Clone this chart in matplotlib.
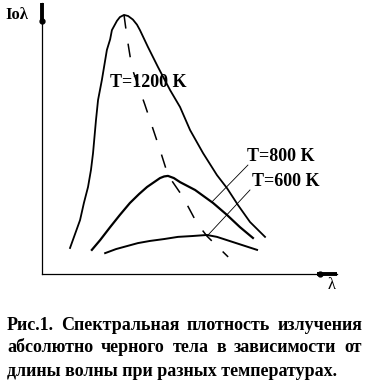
import matplotlib
matplotlib.use("Agg")
import matplotlib.pyplot as plt

# wavelength / intensity in arbitrary units (axes run 0..100)
lam_1200 = [9.5, 12.9, 14.2, 15.6, 16.6, 17.3, 18.3, 19.0, 20.3, 22.0, 23.1, 23.7, 25.4,
            26.4, 27.8, 29.2, 30.8, 32.2, 33.2, 35.9, 39.3, 43.4, 46.8, 50.2, 54.6,
            59.3, 62.7, 66.4, 70.5, 75.6]
int_1200 = [9.6, 19.9, 26.2, 32.1, 38.4, 44.6, 56.8, 64.2, 71.6, 82.7, 86.6, 90.0, 93.4,
            94.8, 95.6, 95.2, 93.9, 92.0, 90.0, 83.8, 76.4, 67.9, 61.6, 53.1, 44.6,
            36.5, 31.7, 25.5, 19.2, 13.7]

lam_800 = [16.9, 19.7, 23.1, 26.4, 29.8, 32.9, 35.6, 38.0, 40.0, 41.4, 42.7, 44.7,
           46.8, 51.9, 58.0, 62.7, 67.1, 71.5]
int_800 = [8.9, 12.5, 17.3, 21.8, 26.2, 29.5, 32.1, 33.9, 35.4, 36.0, 36.2, 35.4,
           33.9, 31.0, 26.2, 21.8, 17.3, 13.3]

lam_600 = [21.4, 25.1, 28.8, 32.5, 36.6, 41.4, 46.1, 50.8, 55.9, 59.3, 62.7, 67.8, 72.9]
int_600 = [7.7, 9.2, 10.3, 11.4, 12.2, 12.9, 13.7, 14.0, 14.4, 13.7, 12.5, 10.7, 8.9]

# locus of the maxima (dashed)
lam_max = [27.8, 28.8, 30.5, 34.9, 40.0, 42.7, 47.8, 52.5, 55.9, 63.1]
int_max = [95.6, 87.5, 76.0, 62.4, 45.8, 36.5, 28.4, 18.8, 14.0, 6.3]

labels = ["T=1200 K", "T=800 K", "T=600 K"]
label_xy = [(23.1, 70.8), (69.5, 43.2), (71.2, 34.3)]
leader_800 = ([57.6, 69.8], [26.6, 40.2])
leader_600 = ([56.3, 70.5], [14.4, 31.0])

caption = ["Рис.1. Спектральная плотность излучения",
           "абсолютно черного тела в зависимости от",
           "длины волны при разных температурах."]

serif = "Liberation Serif"

fig = plt.figure(figsize=(3.69, 3.91), dpi=100)
ax = fig.add_axes([42 / 369, 117 / 391, 295 / 369, 271 / 391])
ax.set_xlim(0, 100)
ax.set_ylim(0, 100)
ax.set_xticks([])
ax.set_yticks([])
for s in ["top", "right"]:
    ax.spines[s].set_visible(False)
for s in ["left", "bottom"]:
    ax.spines[s].set_linewidth(0.9)

# crude arrow heads like the original drawing
ax.plot([0, 0], [92.6, 100], color="black", lw=2.8, clip_on=False, solid_capstyle="butt")
ax.plot([0], [93.3], "o", color="black", ms=3.5, clip_on=False)
ax.plot([93.2, 100], [0, 0], color="black", lw=2.8, clip_on=False, solid_capstyle="butt")
ax.plot([94.2], [0], "o", color="black", ms=3.5, clip_on=False)

ax.plot(lam_1200, int_1200, color="black", lw=1.3)
ax.plot(lam_800, int_800, color="black", lw=1.6)
ax.plot(lam_600, int_600, color="black", lw=1.4)
ax.plot(lam_max, int_max, color="black", lw=1.1, linestyle=(0, (9, 10)))

ax.plot(*leader_800, color="black", lw=0.6)
ax.plot(*leader_600, color="black", lw=0.6)

for txt, (x, y) in zip(labels, label_xy):
    ax.text(x, y, txt, family=serif, weight="bold", fontsize=13,
            ha="left", va="center")

fig.text(5 / 369, 1 - 15 / 391, "Iоλ", family=serif, weight="bold",
         fontsize=12, ha="left", va="center")
fig.text(332 / 369, 1 - 285 / 391, "λ", family=serif, fontsize=12,
         ha="center", va="center")

# justified caption; font size chosen so the last line spans like the original
left_px, right_px, last_right_px = 7, 362, 338
line_y = [325, 348, 371]
renderer = fig.canvas.get_renderer()
probe = fig.text(0, 0, caption[-1], family=serif, weight="bold", fontsize=11)
cap_size = 11 * (last_right_px - left_px) / probe.get_window_extent(renderer).width
probe.remove()

for i, line in enumerate(caption):
    y = 1 - line_y[i] / 391
    if i == len(caption) - 1:
        fig.text(left_px / 369, y, line, family=serif, weight="bold",
                 fontsize=cap_size, ha="left", va="center")
        continue
    words = line.split()
    arts = [fig.text(0, y, w, family=serif, weight="bold", fontsize=cap_size,
                     ha="left", va="center") for w in words]
    widths = [a.get_window_extent(renderer).width for a in arts]
    gap = (right_px - left_px - sum(widths)) / (len(words) - 1)
    x = left_px
    for a, w in zip(arts, widths):
        a.set_x(x / 369)
        x += w + gap

fig.savefig("out.png", dpi=100)
